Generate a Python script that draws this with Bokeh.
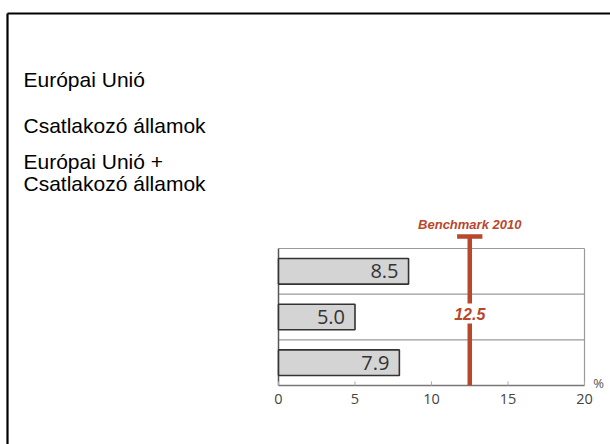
from bokeh.plotting import figure
from bokeh.models import Range1d, Label, ColumnDataSource
from bokeh.core.properties import value
from bokeh.embed import file_html
from bokeh.resources import INLINE

# ---- data ----
categories = ["Európai Unió", "Csatlakozó államok", "Európai Unió +\nCsatlakozó államok"]
values = [8.5, 5.0, 7.9]
value_labels = ["8.5", "5.0", "7.9"]
benchmark = 12.5
benchmark_title = "Benchmark 2010"
benchmark_label = "12.5"
x_ticks = [0, 5, 10, 15, 20]
x_tick_labels = ["0", "5", "10", "15", "20"]
unit = "%"

# ---- layout helpers (page pixels -> data) ----
W, H = 610, 444
X0_PX, X1_PX = 278, 584          # page x of 0 and 20
Y0_PX = 385                      # page y of y=0
ROW_PX = 45.67                   # pixel height per category row
XMAX = 20
PPX = (X1_PX - X0_PX) / XMAX

def dx(px):
    return (px - X0_PX) / PPX

def dy(py):
    return (Y0_PX - py) / ROW_PX

RED = "#B8472C"
GRID = "#9a9a9a"

p = figure(width=W, height=H, output_backend="svg", toolbar_location=None,
           x_range=Range1d(dx(0), dx(W)), y_range=Range1d(dy(H), dy(0)),
           x_axis_location=None, y_axis_location=None,
           min_border=0)
p.outline_line_color = None
p.background_fill_color = "white"
p.border_fill_color = "white"
p.xgrid.visible = False
p.ygrid.visible = False

n = len(categories)
ys = [n - i - 0.5 for i in range(n)]

# box lines: top border, separators, right border
p.segment(x0=[0] * n, y0=[float(k) for k in range(1, n + 1)],
          x1=[XMAX] * n, y1=[float(k) for k in range(1, n + 1)],
          line_color=GRID, line_width=1.2)
p.segment(x0=[XMAX], y0=[0], x1=[XMAX], y1=[n], line_color=GRID, line_width=1.2)
# left line and bottom axis
p.segment(x0=[0], y0=[0], x1=[0], y1=[n], line_color="#555555", line_width=1.5)
p.segment(x0=[0], y0=[0], x1=[XMAX], y1=[0], line_color="#777777", line_width=1.5)
# small inward tick marks
tick_h = 4 / ROW_PX
p.segment(x0=x_ticks, y0=[0] * len(x_ticks), x1=x_ticks, y1=[tick_h] * len(x_ticks),
          line_color="#aaaaaa", line_width=1)
p.text(x=x_ticks, y=[dy(398)] * len(x_ticks), text=x_tick_labels,
       text_align="center", text_baseline="middle", text_font=value("Open Sans"),
       text_font_size="14.5px", text_color="#444444")

src = ColumnDataSource(dict(y=ys, v=values, lab=value_labels))
p.hbar(y="y", left=0, right="v", height=0.56, source=src,
       fill_color="#d4d4d4", line_color="#333333", line_width=1.6)
p.text(x="v", y="y", text="lab", source=src, x_offset=-10,
       text_align="right", text_baseline="middle",
       text_font_size="20px", text_color="#333333",
       text_font=value("Open Sans"))

# benchmark line with gap for label
gap_lo, gap_hi = dy(323), dy(303)
cap_y = dy(236)
p.segment(x0=[benchmark, benchmark], y0=[0, gap_hi], x1=[benchmark, benchmark], y1=[gap_lo, cap_y],
          line_color=RED, line_width=4.5)
half = (482 - 456.7) / 2 / PPX
p.segment(x0=[benchmark - half], y0=[cap_y], x1=[benchmark + half], y1=[cap_y],
          line_color=RED, line_width=4.5)

p.add_layout(Label(x=benchmark, y=dy(313), text=benchmark_label, text_align="center",
                   text_baseline="middle", text_font="Liberation Sans", text_font_style="bold italic",
                   text_font_size="16px", text_color=RED))
p.add_layout(Label(x=benchmark, y=dy(224), text=benchmark_title, text_align="center",
                   text_baseline="middle", text_font="Liberation Sans", text_font_style="bold italic",
                   text_font_size="13px", text_color=RED))

p.add_layout(Label(x=dx(598), y=dy(382), text=unit, text_align="center", text_baseline="middle",
                   text_font="Open Sans", text_font_size="13px", text_color="#555555"))

# left-side category texts
lines = []
for c in categories:
    lines.extend(c.split("\n"))
line_y = [79, 125, 161, 183]
for t, py in zip(lines, line_y):
    p.add_layout(Label(x=dx(23), y=dy(py), text=t, text_align="left", text_baseline="middle",
                       text_font="Liberation Sans", text_font_size="21px", text_color="black"))

# outer frame (cut off at right and bottom)
p.segment(x0=[dx(7), dx(7)], y0=[dy(13), dy(13)], x1=[dx(W + 10), dx(7)], y1=[dy(13), dy(H + 10)],
          line_color="black", line_width=2.2)

open("out.html", "w").write(file_html(p, INLINE))
